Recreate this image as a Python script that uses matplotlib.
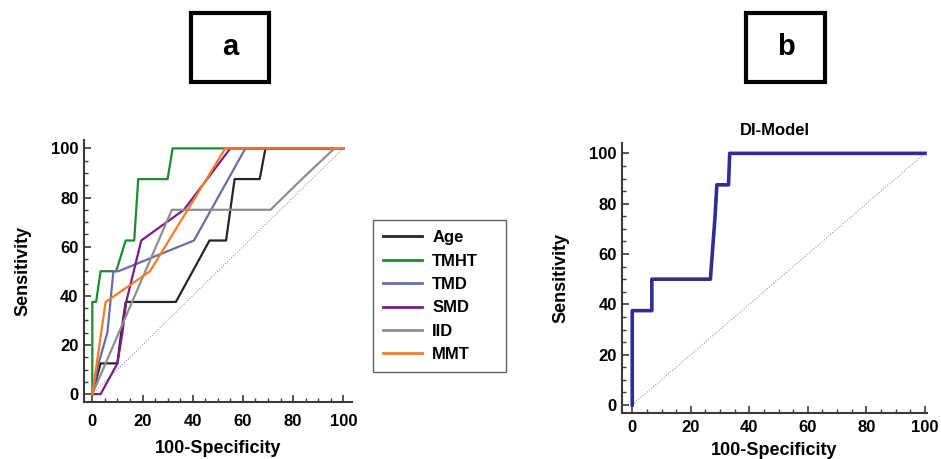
import matplotlib
matplotlib.use('Agg')
import matplotlib.pyplot as plt
from matplotlib.patches import Rectangle
from matplotlib.ticker import MultipleLocator

plt.rcParams['font.family'] = ['Liberation Sans', 'DejaVu Sans']
plt.rcParams['font.weight'] = 'bold'

# ROC curves, panel a (x = 100-Specificity, y = Sensitivity)
age_x = [0, 3.3, 10, 11.5, 13.3, 33.3, 46.7, 53.3, 56.7, 66.7, 69, 100]
age_y = [0, 12.5, 12.5, 25, 37.5, 37.5, 62.5, 62.5, 87.5, 87.5, 100, 100]
tmht_x = [0, 0, 1.5, 3.3, 9.5, 13.3, 16.7, 18.3, 30, 32, 100]
tmht_y = [0, 37.5, 37.5, 50, 50, 62.5, 62.5, 87.5, 87.5, 100, 100]
tmd_x = [0, 2.5, 6.0, 8.4, 10.4, 40.5, 61, 100]
tmd_y = [0, 12.5, 25, 50, 50, 62.5, 100, 100]
smd_x = [0, 3.3, 10, 12, 13.5, 19.5, 36.5, 55, 100]
smd_y = [0, 0, 12.5, 25, 37.5, 62.5, 75, 100, 100]
iid_x = [0, 31.7, 71, 83.5, 96.5, 100]
iid_y = [0, 75, 75, 87.5, 100, 100]
mmt_x = [0, 5.3, 23, 53, 100]
mmt_y = [0, 37.5, 50, 100, 100]

curves = [('Age', age_x, age_y, '#252525'),
          ('TMHT', tmht_x, tmht_y, '#1f8a30'),
          ('TMD', tmd_x, tmd_y, '#6b6ba8'),
          ('SMD', smd_x, smd_y, '#7a1d88'),
          ('IID', iid_x, iid_y, '#8e8e8e'),
          ('MMT', mmt_x, mmt_y, '#f47b28')]

# panel b
di_x = [0, 0, 6.7, 6.7, 26.7, 27.5, 28.3, 28.9, 32.9, 33.3, 100]
di_y = [0, 37.5, 37.5, 50, 50, 62.5, 75, 87.5, 87.5, 100, 100]

fig = plt.figure(figsize=(9.41, 4.59), dpi=100)


def style_axes(ax, xpad, xlabelpad, ylabelpad):
    for s in ['top', 'right']:
        ax.spines[s].set_visible(False)
    for s in ['left', 'bottom']:
        ax.spines[s].set_color('#3a3a3a')
        ax.spines[s].set_linewidth(1.5)
    ax.xaxis.set_major_locator(MultipleLocator(20))
    ax.yaxis.set_major_locator(MultipleLocator(20))
    ax.xaxis.set_minor_locator(MultipleLocator(5))
    ax.yaxis.set_minor_locator(MultipleLocator(5))
    ax.tick_params(which='major', direction='in', length=5, width=1.2,
                   color='#3a3a3a', labelsize=12)
    ax.tick_params(which='minor', direction='in', length=3, width=1.0,
                   color='#3a3a3a')
    ax.tick_params(axis='x', which='major', pad=xpad)
    ax.tick_params(axis='y', which='major', pad=4)
    for lab in ax.get_xticklabels() + ax.get_yticklabels():
        lab.set_fontweight('bold')
    ax.plot([0, 100], [0, 100], ls=(0, (1, 1.5)), color='#9a9a9a', lw=0.8)
    ax.set_xlabel('100-Specificity', fontsize=13, fontweight='bold',
                  labelpad=xlabelpad)
    ax.set_ylabel('Sensitivity', fontsize=13, fontweight='bold',
                  labelpad=ylabelpad)


ax1 = fig.add_axes([0.0893, 0.1248, 0.2851, 0.5702])
style_axes(ax1, 9, 8, 14)
handles = []
for name, xs, ys, col in curves:
    h, = ax1.plot(xs, ys, color=col, lw=1.6, label=name)
    handles.append(h)
ax1.set_xlim(-3.3, 103.6)
ax1.set_ylim(-3.1, 103.4)

leg = fig.legend(handles=handles, loc='upper left',
                 bbox_to_anchor=(372.7 / 941, 1 - 374 / 459,
                                 133 / 941, 154 / 459),
                 mode='expand',
                 frameon=True, fancybox=False, edgecolor='#3a3a3a',
                 prop={'weight': 'bold', 'size': 12}, handlelength=2.35,
                 labelspacing=0.5, borderpad=0.62, handletextpad=0.6,
                 borderaxespad=0)
leg.get_frame().set_linewidth(1.0)
for line in leg.get_lines():
    line.set_linewidth(2.0)

ax2 = fig.add_axes([0.6613, 0.1009, 0.3235, 0.5869])
style_axes(ax2, 5, 5, 14)
ax2.plot(di_x, di_y, color='#2e2e94', lw=2.6)
ax2.set_xlim(-3.4, 100.6)
ax2.set_ylim(-3.06, 104)
ax2.set_title('DI-Model', fontsize=12, fontweight='bold', pad=6)

# panel letters in boxes
for x0, x1, letter in [(190.7, 269.3, 'a'), (746, 825, 'b')]:
    fig.patches.append(Rectangle((x0 / 941, 1 - 81.7 / 459),
                                 (x1 - x0) / 941, (81.7 - 12.7) / 459,
                                 transform=fig.transFigure, fill=False,
                                 edgecolor='black', lw=3))
    fig.text((x0 + x1) / 2 / 941, 1 - 47 / 459, letter, fontsize=21,
             fontweight='bold', ha='center', va='center')

fig.savefig('out.png', dpi=100)
